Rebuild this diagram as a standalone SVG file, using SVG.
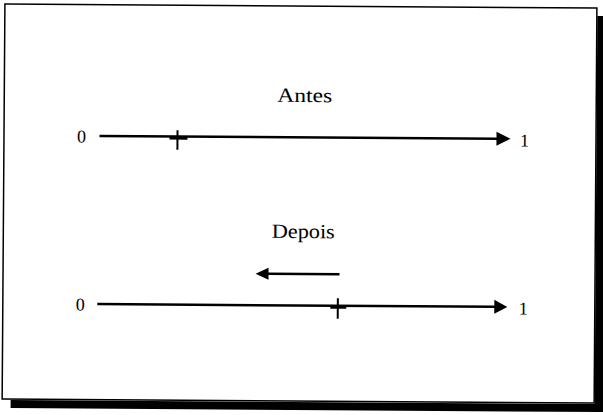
<svg xmlns="http://www.w3.org/2000/svg" width="603" height="415" viewBox="0 0 603 415">
  <style>
    .lbl { font-family: "Liberation Serif", "Times New Roman", serif; fill: #000; }
    .axis { stroke: #000; stroke-width: 2.5; fill: none; }
    .tick { stroke: #000; stroke-width: 2; fill: none; }
    .head { fill: #000; }
  </style>
  <rect x="0" y="0" width="603" height="415" fill="#fff"/>
  <g transform="rotate(0.4 300 207)">
    <!-- frame with drop shadow -->
    <g id="frame">
      <rect x="596" y="14" width="10" height="396" fill="#000"/>
      <rect x="12" y="402" width="594" height="8" fill="#000"/>
      <rect x="3.5" y="6" width="592" height="395" fill="#fff" stroke="#000" stroke-width="1.5"/>
    </g>

    <g id="title-antes">
      <text class="lbl" x="304" y="102" font-size="20" text-anchor="middle" textLength="55" lengthAdjust="spacingAndGlyphs">Antes</text>
    </g>
    <g id="title-depois">
      <text class="lbl" x="303.5" y="238" font-size="20" text-anchor="middle" textLength="63" lengthAdjust="spacingAndGlyphs">Depois</text>
    </g>

    <!-- upper scale -->
    <g id="scale-antes">
      <text class="lbl" x="81" y="144" font-size="18" text-anchor="middle">0</text>
      <text class="lbl" x="524" y="145" font-size="18" text-anchor="middle">1</text>
    </g>
    <!-- lower scale -->
    <g id="scale-depois">
      <text class="lbl" x="81" y="312" font-size="18" text-anchor="middle">0</text>
      <text class="lbl" x="524" y="313" font-size="18" text-anchor="middle">1</text>
    </g>

    <g id="connectors">
      <line class="axis" x1="99" y1="137.3" x2="497" y2="137.3"/>
      <polygon class="head" points="496,130.3 510,137.3 496,144.3"/>
      <line class="axis" x1="98" y1="305.5" x2="496" y2="305.5"/>
      <polygon class="head" points="495,298.5 508,305.5 495,312.5"/>
      <!-- direction of movement -->
      <line class="axis" x1="340" y1="274" x2="268" y2="274"/>
      <polygon class="head" points="269,268 256,274 269,280"/>
    </g>

    <!-- position markers -->
    <g id="marker-antes">
      <line class="tick" x1="177" y1="131" x2="177" y2="150.5"/>
      <line x1="169" y1="139" x2="187" y2="139" stroke="#000" stroke-width="3"/>
    </g>
    <g id="marker-depois">
      <line class="tick" x1="338.5" y1="298" x2="338.5" y2="318.5"/>
      <line x1="331" y1="307" x2="347" y2="307" stroke="#000" stroke-width="3"/>
    </g>
  </g>
</svg>
